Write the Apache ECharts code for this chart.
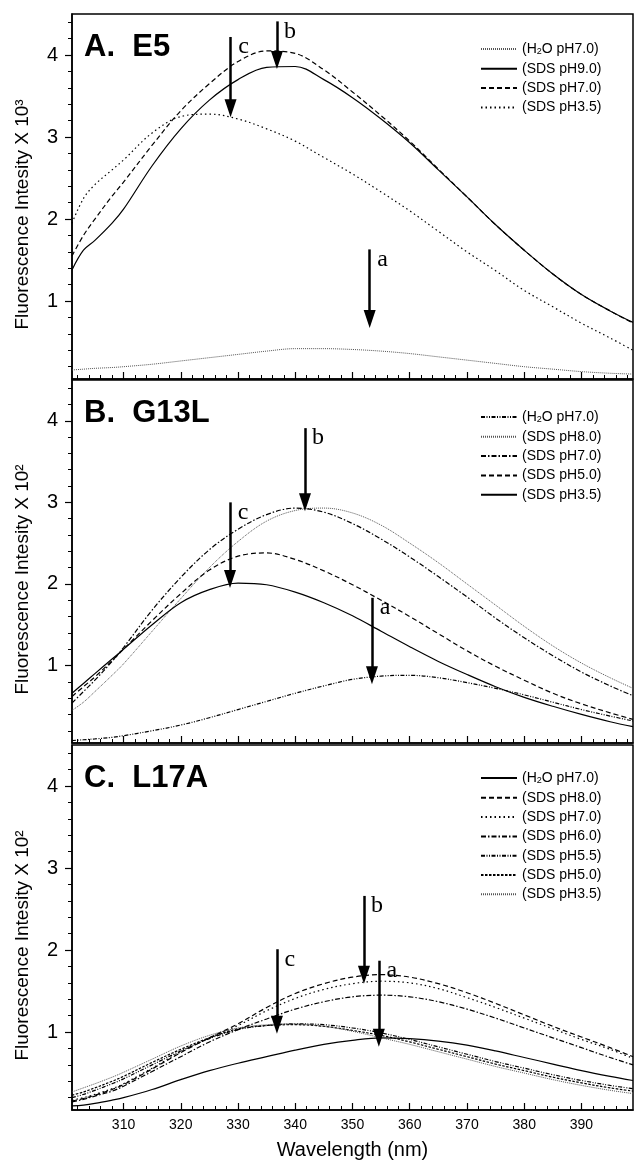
<!DOCTYPE html>
<html>
<head>
<meta charset="utf-8">
<script src="https://cdn.jsdelivr.net/npm/echarts@6/dist/echarts.min.js"></script>
<style>
  html, body { margin: 0; padding: 0; background: #fff; }
  #chart { width: 635px; height: 1165px; }
</style>
</head>
<body>
<div id="chart"></div>
<script>
// shared x values (nm)
const wavelengths = [301, 303, 305, 308, 310, 315, 320, 325, 330, 335, 340, 345, 350, 355, 360, 365, 370, 375, 380, 385, 390, 395, 399];
const xTickLabels = [310, 320, 330, 340, 350, 360, 370, 380, 390];
const yTickLabels = [1, 2, 3, 4];

// A. E5  (x 10^3)
const a_h2o70 = [0.16, 0.17, 0.18, 0.19, 0.2, 0.23, 0.27, 0.31, 0.35, 0.39, 0.42, 0.42, 0.41, 0.39, 0.36, 0.32, 0.28, 0.24, 0.2, 0.17, 0.14, 0.12, 0.11];
const a_sds90 = [1.38, 1.62, 1.74, 1.95, 2.12, 2.65, 3.1, 3.45, 3.7, 3.85, 3.86, 3.7, 3.48, 3.22, 2.93, 2.6, 2.27, 1.93, 1.62, 1.33, 1.08, 0.88, 0.74];
const a_sds70 = [1.55, 1.8, 2.0, 2.28, 2.45, 2.9, 3.32, 3.65, 3.92, 4.05, 4.02, 3.82, 3.55, 3.26, 2.95, 2.61, 2.27, 1.93, 1.62, 1.33, 1.08, 0.88, 0.73];
const a_sds35 = [1.95, 2.25, 2.42, 2.6, 2.72, 3.05, 3.25, 3.28, 3.22, 3.1, 2.95, 2.75, 2.55, 2.33, 2.1, 1.85, 1.6, 1.37, 1.13, 0.93, 0.73, 0.55, 0.4];

// B. G13L (x 10^2)
const b_h2o70 = [0.08, 0.09, 0.1, 0.12, 0.14, 0.2, 0.27, 0.36, 0.46, 0.56, 0.66, 0.75, 0.83, 0.87, 0.88, 0.85, 0.79, 0.72, 0.64, 0.55, 0.46, 0.38, 0.32];
const b_sds80 = [0.45, 0.55, 0.68, 0.88, 1.02, 1.42, 1.82, 2.2, 2.52, 2.77, 2.9, 2.93, 2.87, 2.72, 2.5, 2.26, 2.0, 1.74, 1.48, 1.24, 1.03, 0.85, 0.72];
const b_sds70 = [0.54, 0.68, 0.82, 1.05, 1.22, 1.68, 2.08, 2.42, 2.67, 2.85, 2.93, 2.88, 2.74, 2.55, 2.33, 2.09, 1.84, 1.58, 1.34, 1.12, 0.92, 0.75, 0.63];
const b_sds50 = [0.62, 0.74, 0.86, 1.06, 1.2, 1.55, 1.88, 2.17, 2.34, 2.38, 2.3, 2.16, 1.99, 1.8, 1.6, 1.39, 1.18, 0.99, 0.82, 0.66, 0.53, 0.42, 0.34];
const b_sds35 = [0.66, 0.78, 0.9, 1.08, 1.2, 1.5, 1.77, 1.93, 2.01, 1.99, 1.9, 1.77, 1.61, 1.42, 1.23, 1.05, 0.89, 0.74, 0.61, 0.5, 0.4, 0.31, 0.25];

// C. L17A (x 10^2)
const c_h2o70 = [0.1, 0.11, 0.13, 0.17, 0.2, 0.3, 0.42, 0.53, 0.62, 0.7, 0.78, 0.85, 0.9, 0.93, 0.92, 0.89, 0.84, 0.77, 0.69, 0.61, 0.53, 0.46, 0.41];
const c_sds80 = [0.16, 0.19, 0.23, 0.3, 0.36, 0.55, 0.75, 0.93, 1.1, 1.3, 1.47, 1.59, 1.67, 1.7, 1.67, 1.59, 1.48, 1.35, 1.21, 1.07, 0.94, 0.81, 0.7];
const c_sds70 = [0.17, 0.2, 0.24, 0.31, 0.37, 0.56, 0.76, 0.93, 1.08, 1.26, 1.41, 1.52, 1.59, 1.62, 1.6, 1.53, 1.42, 1.3, 1.17, 1.04, 0.91, 0.79, 0.68];
const c_sds60 = [0.15, 0.18, 0.22, 0.28, 0.34, 0.52, 0.7, 0.88, 1.03, 1.16, 1.28, 1.37, 1.43, 1.45, 1.43, 1.37, 1.28, 1.17, 1.05, 0.93, 0.81, 0.69, 0.6];
const c_sds55 = [0.2, 0.24, 0.29, 0.37, 0.43, 0.6, 0.77, 0.92, 1.03, 1.08, 1.1, 1.09, 1.05, 0.99, 0.91, 0.82, 0.73, 0.64, 0.56, 0.48, 0.41, 0.35, 0.31];
const c_sds50 = [0.23, 0.27, 0.32, 0.4, 0.46, 0.63, 0.79, 0.93, 1.04, 1.08, 1.09, 1.07, 1.02, 0.96, 0.88, 0.79, 0.7, 0.61, 0.53, 0.45, 0.38, 0.32, 0.28];
const c_sds35 = [0.27, 0.32, 0.37, 0.45, 0.51, 0.67, 0.83, 0.96, 1.05, 1.09, 1.1, 1.07, 1.01, 0.93, 0.85, 0.76, 0.67, 0.58, 0.5, 0.42, 0.35, 0.29, 0.25];

// arrows: [letter, wavelength, top value, tip value]
const arrowsA = [['c', 328.7, 4.22, 3.35], ['b', 336.8, 4.41, 3.94], ['a', 353, 1.63, 0.78]];
const arrowsB = [['b', 341.7, 3.91, 3.0], ['c', 328.6, 3.0, 2.06], ['a', 353.4, 1.83, 0.88]];
const arrowsC = [['b', 352, 2.66, 1.70], ['a', 354.6, 1.87, 0.93], ['c', 336.8, 2.01, 1.09]];

const FONT = 'Liberation Sans, Arial, sans-serif';

// line dash patterns
const SOLID = 'solid';
const FINE = [1, 1];
const DOT = [1.5, 3];
const DASH = [5, 3];
const DASHDOT = [5, 2, 1.5, 2];
const DASHDOTDOT = [4, 1.5, 1, 1.5, 1, 1.5];
const SHORTDASH = [2.5, 1.5];

// panel definitions
const panels = [
  {
    title: 'A.  E5', unit: '10³', top: 14, height: 365, legendTop: 42, arrows: arrowsA,
    lines: [
      ['(H2O pH7.0)', a_h2o70, FINE, '#555'],
      ['(SDS pH9.0)', a_sds90, SOLID, '#000'],
      ['(SDS pH7.0)', a_sds70, DASH, '#000'],
      ['(SDS pH3.5)', a_sds35, DOT, '#000']
    ]
  },
  {
    title: 'B.  G13L', unit: '10²', top: 380, height: 363, legendTop: 410, arrows: arrowsB,
    lines: [
      ['(H2O pH7.0)', b_h2o70, DASHDOTDOT, '#000'],
      ['(SDS pH8.0)', b_sds80, FINE, '#555'],
      ['(SDS pH7.0)', b_sds70, DASHDOT, '#000'],
      ['(SDS pH5.0)', b_sds50, DASH, '#000'],
      ['(SDS pH3.5)', b_sds35, SOLID, '#000']
    ]
  },
  {
    title: 'C.  L17A', unit: '10²', top: 745, height: 365, legendTop: 771, arrows: arrowsC,
    lines: [
      ['(H2O pH7.0)', c_h2o70, SOLID, '#000'],
      ['(SDS pH8.0)', c_sds80, DASH, '#000'],
      ['(SDS pH7.0)', c_sds70, DOT, '#000'],
      ['(SDS pH6.0)', c_sds60, DASHDOT, '#000'],
      ['(SDS pH5.5)', c_sds55, DASHDOTDOT, '#000'],
      ['(SDS pH5.0)', c_sds50, SHORTDASH, '#000'],
      ['(SDS pH3.5)', c_sds35, FINE, '#555']
    ]
  }
];

// minor ticks
const xMinor = [];
for (let v = 302; v <= 398; v += 2) if (v % 10 !== 0) xMinor.push(v);
const yMinor = [];
for (let v = 0.2; v < 4.45; v += 0.2) {
  const r = Math.round(v * 10) / 10;
  if (r % 1 !== 0) yMinor.push(r);
}

function legendLabel(name) {
  const t = name.split('|')[1];
  if (t.indexOf('H2O') >= 0) return '{n|(H}{s|2}{n|O pH7.0)}';
  return '{n|' + t + '}';
}

const grid = [], xAxis = [], yAxis = [], series = [], legend = [], title = [];

panels.forEach((p, i) => {
  grid.push({
    left: 72, right: 2, top: p.top, height: p.height,
    show: true, borderColor: '#000', borderWidth: 1.5
  });
  title.push({
    text: p.title, left: 84, top: p.top + 18, padding: 0,
    textStyle: { fontSize: 31, fontWeight: 'bold', fontFamily: FONT, color: '#000' }
  });
  // major x
  xAxis.push({
    type: 'value', gridIndex: i, min: 301, max: 399, position: 'bottom',
    axisLine: { show: true, onZero: false, lineStyle: { color: '#000', width: 1.5 } },
    axisTick: { show: true, inside: true, length: 7, customValues: xTickLabels, lineStyle: { color: '#000', width: 1.2 } },
    axisLabel: { show: i === 2, customValues: xTickLabels, fontSize: 14, color: '#000', margin: 8, fontFamily: FONT },
    splitLine: { show: false },
    name: i === 2 ? 'Wavelength (nm)' : '',
    nameLocation: 'middle', nameGap: 30,
    nameTextStyle: { fontSize: 20, color: '#000', fontFamily: FONT }
  });
  // minor x
  xAxis.push({
    type: 'value', gridIndex: i, min: 301, max: 399, position: 'bottom',
    axisLine: { show: false },
    axisTick: { show: true, inside: true, length: 4, customValues: xMinor, lineStyle: { color: '#000', width: 1 } },
    axisLabel: { show: false },
    splitLine: { show: false }
  });
  // major y
  yAxis.push({
    type: 'value', gridIndex: i, min: 0.05, max: 4.5, position: 'left',
    axisLine: { show: true, onZero: false, lineStyle: { color: '#000', width: 1.5 } },
    axisTick: { show: true, inside: false, length: 7, customValues: yTickLabels, lineStyle: { color: '#000', width: 1.2 } },
    axisLabel: { customValues: yTickLabels, fontSize: 20, color: '#000', margin: 14, fontFamily: FONT },
    splitLine: { show: false },
    name: 'Fluorescence Intesity X ' + p.unit,
    nameLocation: 'middle', nameGap: 40,
    nameTextStyle: { fontSize: 19, color: '#000', fontFamily: FONT, padding: [0, 36, 0, 0] }
  });
  // minor y
  yAxis.push({
    type: 'value', gridIndex: i, min: 0.05, max: 4.5, position: 'left',
    axisLine: { show: false },
    axisTick: { show: true, inside: false, length: 4, customValues: yMinor, lineStyle: { color: '#000', width: 1 } },
    axisLabel: { show: false },
    splitLine: { show: false }
  });

  const names = [];
  p.lines.forEach((ln, k) => {
    const name = 'ABC'[i] + '|' + ln[0];
    names.push(name);
    const s = {
      type: 'line', name: name,
      xAxisIndex: i * 2, yAxisIndex: i * 2,
      data: wavelengths.map((w, j) => [w, ln[1][j]]),
      smooth: 0.35, symbol: 'none', silent: true, animation: false,
      lineStyle: { color: ln[3], width: ln[2] === FINE ? 1 : 1.2, type: ln[2] },
      itemStyle: { color: ln[3] }
    };
    if (k === 0) {
      s.markLine = {
        silent: true, animation: false,
        symbol: ['none', 'triangle'], symbolSize: [12, 18],
        lineStyle: { color: '#000', width: 2.5, type: 'solid' },
        label: { show: false },
        data: p.arrows.map(a => [{ coord: [a[1], a[2]] }, { coord: [a[1], a[3]] }])
      };
      s.markPoint = {
        silent: true, animation: false, symbol: 'circle', symbolSize: 0,
        label: {
          show: true, formatter: q => q.name, color: '#000',
          fontFamily: 'Liberation Serif, Times New Roman, serif', fontSize: 24,
          offset: [13, 10]
        },
        data: p.arrows.map(a => ({ name: a[0], coord: [a[1], a[2]] }))
      };
    }
    series.push(s);
  });

  legend.push({
    data: names, orient: 'vertical', left: 480, top: p.legendTop, padding: 0,
    itemWidth: 36, itemHeight: 12, itemGap: 5.3, selectedMode: false,
    itemStyle: { opacity: 0 },
    formatter: legendLabel,
    textStyle: {
      color: '#000',
      rich: {
        n: { fontSize: 14, fontFamily: FONT, color: '#000' },
        s: { fontSize: 9, fontFamily: FONT, color: '#000', verticalAlign: 'bottom', padding: [6, 0, 0, 0] }
      }
    }
  });
});

const chart = echarts.init(document.getElementById('chart'), null, { renderer: 'canvas' });
chart.setOption({
  backgroundColor: '#fff',
  animation: false,
  title: title,
  legend: legend,
  grid: grid,
  xAxis: xAxis,
  yAxis: yAxis,
  series: series
});
</script>
</body>
</html>
